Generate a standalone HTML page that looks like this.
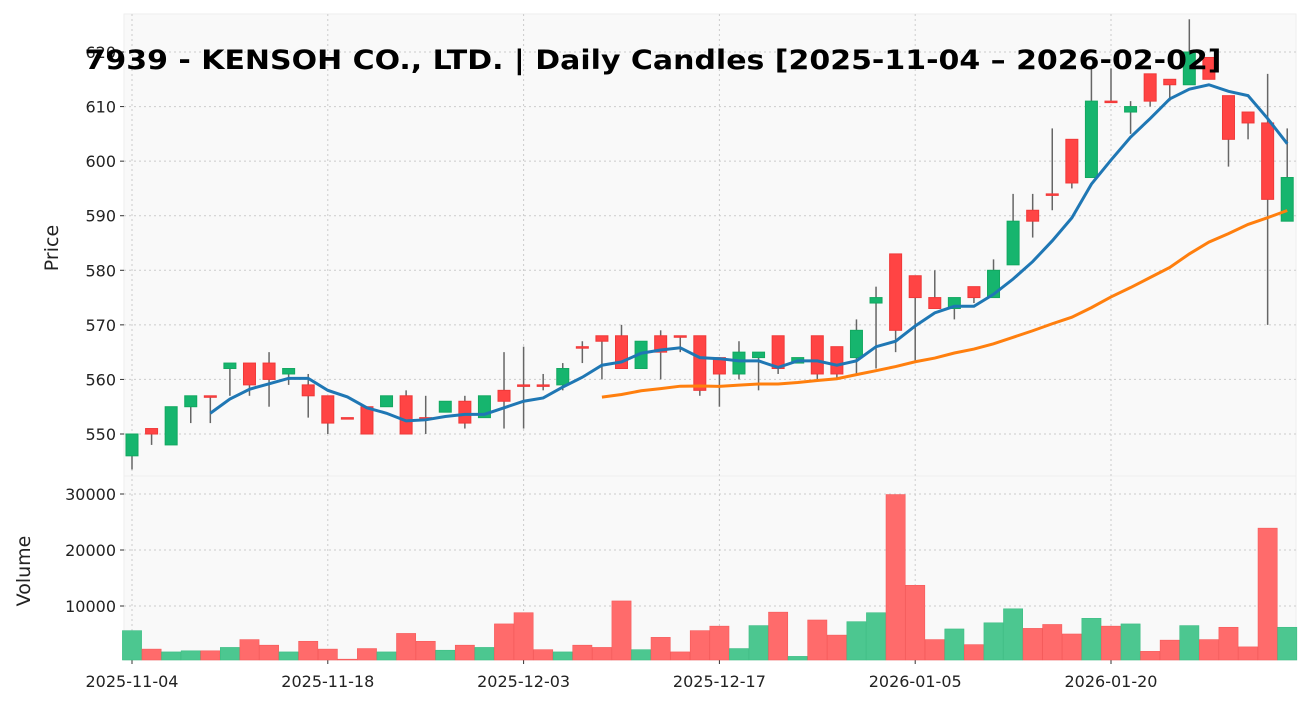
<!DOCTYPE html>
<html><head><meta charset="utf-8"><style>
body{margin:0;background:#fff;}
svg text{font-family:"DejaVu Sans","Liberation Sans",sans-serif;}
</style></head><body>
<svg id="c" width="1310" height="711" xmlns="http://www.w3.org/2000/svg"></svg>
<script>
const dates=["2025-11-04","2025-11-18","2025-12-03","2025-12-17","2026-01-05","2026-01-20"];
const dateIdx=[0,10,20,30,40,50];
const opens=[546,551,548,555,557,562,563,563,561,559,557,553,555,555,557,553,554,556,553,558,559,559,559,566,568,568,562,568,568,568,564,561,564,568,563,568,566,564,574,583,579,575,573,577,575,581,591,594,604,597,611,609,616,615,614,619,612,609,607,589];
const highs=[550,551,555,557,557,563,563,565,562,561,557,553,555,557,558,557,556,557,557,565,566,561,563,567,568,570,567,569,568,568,564,567,565,568,564,568,566,571,577,583,579,580,575,577,582,594,594,606,604,617,617,611,616,615,626,619,612,609,616,606];
const lows=[543.5,548,548,552,552,557,557,555,559,553,550,553,550,555,550,550,554,551,553,551,551,558,558,563,560,562,562,560,565,557,555,560,558,561,563,560,560,561,562,565,563,573,571,574,575,581,586,591,595,597,611,605,610,611,614,615,599,604,570,589];
const closes=[550,550,555,557,557,563,559,560,562,557,552,553,550,557,550,553,556,552,557,556,559,559,562,566,567,562,567,565,568,558,561,565,565,562,564,561,561,569,575,569,575,573,575,575,580,589,589,594,596,611,611,610,611,614,620,615,604,607,593,597];
const volumes=[5600,2300,1800,2000,2000,2600,4000,3000,1800,3700,2300,500,2400,1800,5100,3700,2100,3000,2600,6800,8800,2200,1800,3000,2600,10900,2200,4400,1800,5600,6400,2400,6500,8900,1000,7500,4800,7200,8800,29900,13700,4000,5900,3100,7000,9500,6000,6700,5000,7800,6400,6800,1900,3900,6500,4000,6200,2700,23900,6200];
const priceTicks=[550,560,570,580,590,600,610,620];
const volTicks=[10000,20000,30000];

const S=document.getElementById('c');const NS='http://www.w3.org/2000/svg';
function mk(t,a,p){const e=document.createElementNS(NS,t);for(const k in a)e.setAttribute(k,a[k]);(p||S).appendChild(e);return e;}
const X0=124,X1=1296,PT=14,PB=476,VB=660;
const xs=i=>132+i*19.58;
const py=p=>434-(p-550)*5.457;
const vy=v=>662-v*0.0056;
let bg=mk('rect',{x:X0,y:PT,width:X1-X0,height:PB-PT,fill:'#f9f9f9',stroke:'#eee'});

let bg2=mk('rect',{x:X0,y:PB,width:X1-X0,height:VB-PB,fill:'#f9f9f9',stroke:'#eee'});

const grid={stroke:'#ccc','stroke-dasharray':'2,3','stroke-width':1};
priceTicks.forEach(p=>{const y=py(p);
 mk('line',Object.assign({x1:X0,x2:X1,y1:y,y2:y},grid));
 mk('line',{x1:X0-4,x2:X0,y1:y,y2:y,stroke:'#333'});
 const t=mk('text',{x:X0-8,y:y+6,'text-anchor':'end','font-size':16,fill:'#222'});t.textContent=p;
 });
volTicks.forEach(v=>{const y=vy(v);
 mk('line',Object.assign({x1:X0,x2:X1,y1:y,y2:y},grid));
 mk('line',{x1:X0-4,x2:X0,y1:y,y2:y,stroke:'#333'});
 const t=mk('text',{x:X0-8,y:y+6,'text-anchor':'end','font-size':16,fill:'#222'});t.textContent=v;
 });
dateIdx.forEach((d,k)=>{const x=xs(d);
 mk('line',Object.assign({x1:x,x2:x,y1:PT,y2:VB},grid));
 mk('line',{x1:x,x2:x,y1:VB,y2:VB+4,stroke:'#333'});
 const t=mk('text',{x:x,y:VB+27,'text-anchor':'middle','font-size':16,fill:'#222'});t.textContent=dates[k];
 });
volumes.forEach((v,i)=>{const up=closes[i]>opens[i];
 const r=mk('rect',{x:xs(i)-9.6,y:vy(v),width:19.2,height:VB-vy(v),fill:up?'#4cc790':'#ff6b6b',stroke:up?'#3dbd84':'#f55a5a','stroke-width':0.6});
 });
opens.forEach((o,i)=>{const c=closes[i],up=c>o,x=xs(i);
 const col=up?'#16b56e':'#ff4444';
 const w=mk('line',{x1:x,x2:x,y1:py(highs[i]),y2:py(lows[i]),stroke:'#666','stroke-width':1.5});
 
 const t=Math.min(py(o),py(c)),h=Math.max(1.5,Math.abs(py(o)-py(c)));
 const r=mk('rect',{x:x-6,y:t,width:12,height:h,fill:col,stroke:up?'#12a860':'#f03838','stroke-width':1});
 });
function ma(n){const pts=[];for(let i=n-1;i<closes.length;i++){let s=0;for(let j=i-n+1;j<=i;j++)s+=closes[j];pts.push(xs(i)+','+py(s/n));}return pts.join(' ');}
const m5=mk('polyline',{points:ma(5),fill:'none',stroke:'#1f77b4','stroke-width':3});

const m25=mk('polyline',{points:ma(25),fill:'none',stroke:'#ff7f0e','stroke-width':3});

let t=mk('text',{x:653,y:69,'text-anchor':'middle','font-size':27,'font-weight':'bold',fill:'#000',textLength:1137,lengthAdjust:'spacingAndGlyphs'});
t.textContent='7939 - KENSOH CO., LTD. | Daily Candles [2025-11-04 – 2026-02-02]';

t=mk('text',{x:58,y:248,'text-anchor':'middle','font-size':19,fill:'#222',transform:'rotate(-90 58 248)'});t.textContent='Price';

t=mk('text',{x:30,y:571,'text-anchor':'middle','font-size':19,fill:'#222',transform:'rotate(-90 30 571)'});t.textContent='Volume';

</script>
</body></html>
